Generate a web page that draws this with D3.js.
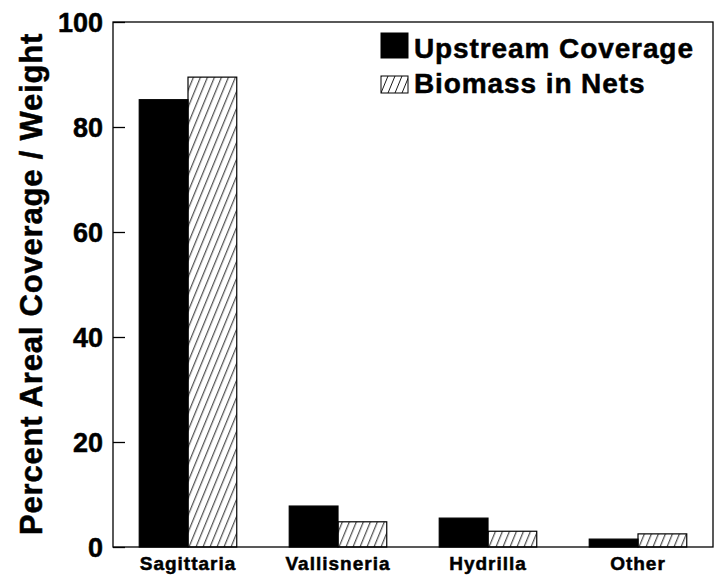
<!DOCTYPE html>
<html>
<head>
<meta charset="utf-8">
<script src="https://cdn.jsdelivr.net/npm/d3@7"></script>
<style>
  body { margin: 0; background: #fff; }
  svg text { font-family: "Liberation Sans", Arial, sans-serif; font-weight: bold; fill: #000; stroke: #000; stroke-width: 0.5px; }
</style>
</head>
<body>
<svg id="chart" width="717" height="578"></svg>
<script>
'use strict';

// data
var categories = ['Sagittaria', 'Vallisneria', 'Hydrilla', 'Other'];
var seriesNames = ['Upstream Coverage', 'Biomass in Nets'];
var upstreamCoverage = [85.2, 7.8, 5.5, 1.5];
var biomassInNets = [89.5, 4.8, 3.0, 2.5];
var yTicks = [0, 20, 40, 60, 80, 100];

var svg = d3.select('#chart');
var margin = { top: 22, right: 4, bottom: 31, left: 113 };
var width = 717 - margin.left - margin.right;
var height = 578 - margin.top - margin.bottom;

// hatch pattern for the second series
var defs = svg.append('defs');
var pat = defs.append('pattern')
    .attr('id', 'hatch')
    .attr('patternUnits', 'userSpaceOnUse')
    .attr('width', 7)
    .attr('height', 17);
pat.append('path')
    .attr('d', 'M-7,17 L0,0 M0,17 L7,0 M7,17 L14,0')
    .attr('stroke', '#000')
    .attr('stroke-width', 0.9);

var g = svg.append('g').attr('transform', 'translate(' + margin.left + ',' + margin.top + ')');

var x = d3.scaleBand().domain(categories).range([0, width]).paddingInner(0.35).paddingOuter(0.175);
var xSub = d3.scaleBand().domain(seriesNames).range([0, x.bandwidth()]);
var y = d3.scaleLinear().domain([0, 100]).range([height, 0]);

var rows = categories.map(function(c, i) {
    return { cat: c, values: [upstreamCoverage[i], biomassInNets[i]] };
});

var groups = g.selectAll('.grp').data(rows).enter().append('g')
    .attr('transform', function(d) { return 'translate(' + x(d.cat) + ',0)'; });

groups.selectAll('rect')
    .data(function(d) { return d.values.map(function(v, k) { return { key: seriesNames[k], v: v }; }); })
    .enter().append('rect')
    .attr('x', function(d) { return xSub(d.key); })
    .attr('y', function(d) { return y(d.v); })
    .attr('width', xSub.bandwidth())
    .attr('height', function(d) { return height - y(d.v); })
    .attr('fill', function(d) { return d.key === seriesNames[0] ? '#000' : 'url(#hatch)'; })
    .attr('stroke', '#000')
    .attr('stroke-width', 1.2);

// frame
g.append('rect')
    .attr('width', width).attr('height', height)
    .attr('fill', 'none').attr('stroke', '#000').attr('stroke-width', 1.3);

// y axis, ticks pointing inward
var yAxis = d3.axisRight(y).tickValues(yTicks).tickSize(12).tickFormat(d3.format('d'));
var ya = g.append('g').call(yAxis);
ya.select('.domain').remove();
ya.selectAll('line').attr('stroke', '#000').attr('stroke-width', 1.3);
ya.selectAll('text')
    .attr('x', -10)
    .attr('text-anchor', 'end')
    .attr('dy', '0.36em')
    .style('font-size', '27px');

// x axis labels
var xAxis = d3.axisBottom(x).tickSize(0).tickPadding(10);
var xa = g.append('g').attr('transform', 'translate(0,' + height + ')').call(xAxis);
xa.select('.domain').remove();
xa.selectAll('text').style('font-size', '19px').style('letter-spacing', '1px');

// y title
svg.append('text')
    .attr('transform', 'translate(42,284) rotate(-90)')
    .attr('text-anchor', 'middle')
    .style('font-size', '31px')
    .style('letter-spacing', '0.8px')
    .text('Percent Areal Coverage / Weight');

// legend
var legendY = [58, 93];
var legend = svg.append('g').selectAll('g').data(seriesNames).enter().append('g')
    .attr('transform', function(d, i) { return 'translate(381,' + legendY[i] + ')'; });
legend.append('rect')
    .attr('x', 0)
    .attr('y', function(d, i) { return i === 0 ? -25 : -17; })
    .attr('width', 27)
    .attr('height', function(d, i) { return i === 0 ? 25 : 17; })
    .attr('fill', function(d, i) { return i === 0 ? '#000' : 'url(#hatch)'; })
    .attr('stroke', '#000')
    .attr('stroke-width', 1);
legend.append('text')
    .attr('x', 33)
    .style('font-size', '28px')
    .style('letter-spacing', '0.9px')
    .text(function(d) { return d; });
</script>
</body>
</html>
